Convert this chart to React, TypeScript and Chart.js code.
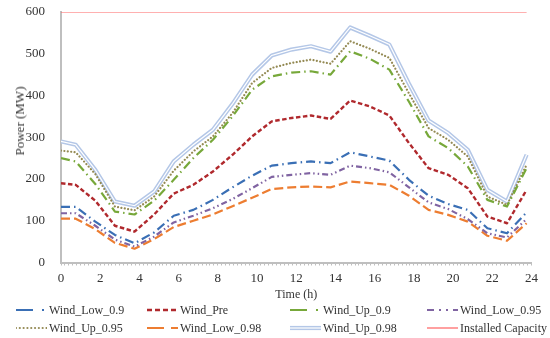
import React, { useEffect, useRef } from "react";
import { Chart, registerables } from "chart.js";
Chart.register(...registerables);

const hours = [0, 0.75, 1.75, 2.75, 3.75, 4.75, 5.75, 6.75, 7.75, 8.75, 9.75, 10.75, 11.75, 12.75, 13.75, 14.75, 15.75, 16.75, 17.75, 18.75, 19.75, 20.75, 21.75, 22.75, 23.75];

const windLow09 = [133, 133, 98, 66, 46, 72, 112, 126, 150, 180, 208, 232, 238, 242, 238, 264, 254, 244, 198, 160, 140, 126, 82, 70, 120];
const windPre = [190, 186, 148, 88, 74, 115, 165, 186, 218, 258, 302, 338, 346, 352, 344, 388, 374, 352, 286, 226, 210, 178, 110, 94, 174];
const windUp09 = [250, 242, 188, 122, 115, 148, 198, 250, 294, 350, 414, 446, 455, 458, 450, 506, 488, 462, 385, 302, 274, 230, 150, 134, 226];
const windLow095 = [118, 118, 88, 55, 38, 62, 96, 112, 130, 152, 178, 205, 210, 214, 210, 232, 226, 216, 180, 144, 128, 104, 70, 60, 104];
const windUp095 = [268, 264, 212, 134, 125, 158, 220, 266, 302, 358, 430, 466, 478, 486, 476, 530, 512, 490, 405, 322, 294, 254, 158, 138, 234];
const windLow098 = [105, 105, 80, 47, 33, 56, 85, 100, 115, 135, 155, 176, 180, 182, 180, 194, 190, 186, 160, 126, 114, 98, 64, 52, 94];
const windUp098 = [290, 282, 222, 146, 136, 170, 242, 282, 318, 380, 450, 496, 510, 518, 505, 563, 543, 522, 428, 340, 310, 270, 174, 146, 258];
const capacityHours = [0, 23.75];
const capacity = [600, 600];

const yTicks = [0, 100, 200, 300, 400, 500, 600];
const xLabelEvery = 2;
const xTitle = "Time (h)";
const yTitle = "Power (MW)";

const FONT = "'Liberation Serif', 'Times New Roman', serif";
const TEXT = "#333333";
const AXIS = "#bfbfbf";

type Style = {
  name: string;
  xs: number[];
  ys: number[];
  color: string;
  width: number;
  dash: number[];
  legendDash: number[];
  cap: "butt" | "round";
  double?: boolean;
};

const series: Style[] = [
  { name: "Wind_Low_0.9", xs: hours, ys: windLow09, color: "#3a6fb5", width: 2.2, dash: [9, 4, 1.5, 4], legendDash: [17, 9, 2, 9], cap: "butt" },
  { name: "Wind_Pre", xs: hours, ys: windPre, color: "#b0292d", width: 2.4, dash: [4.5, 2.5], legendDash: [5, 3], cap: "butt" },
  { name: "Wind_Up_0.9", xs: hours, ys: windUp09, color: "#77a83a", width: 2.2, dash: [9, 4, 1.5, 4], legendDash: [17, 9, 2, 9], cap: "butt" },
  { name: "Wind_Low_0.95", xs: hours, ys: windLow095, color: "#8064a2", width: 2.2, dash: [6, 3, 1.5, 3, 1.5, 3], legendDash: [7, 5, 2, 5, 2, 5], cap: "butt" },
  { name: "Wind_Up_0.95", xs: hours, ys: windUp095, color: "#948a54", width: 2.2, dash: [0.01, 3.4], legendDash: [0.01, 3.8], cap: "round" },
  { name: "Wind_Low_0.98", xs: hours, ys: windLow098, color: "#ed7d31", width: 2.2, dash: [9, 4], legendDash: [17, 7], cap: "butt" },
  { name: "Wind_Up_0.98", xs: hours, ys: windUp098, color: "#b4c7e7", width: 4.2, dash: [], legendDash: [], cap: "butt", double: true },
  { name: "Installed Capacity", xs: capacityHours, ys: capacity, color: "#ff6262", width: 1.2, dash: [], legendDash: [], cap: "butt" },
];

const legendCols = [16, 147, 290, 427];
const legendRows = [310, 327.5];

function LegendSample({ s }: { s: Style }) {
  return (
    <svg width={31} height={8} style={{ display: "block" }}>
      <line x1={0} y1={4} x2={31} y2={4} stroke={s.color} strokeWidth={s.width}
        strokeDasharray={s.legendDash.length ? s.legendDash.join(" ") : undefined} strokeLinecap={s.cap} />
      {s.double ? <line x1={0} y1={4} x2={31} y2={4} stroke="#ffffff" strokeWidth={1.2} /> : null}
    </svg>
  );
}

export default function App() {
  const ref = useRef<HTMLCanvasElement | null>(null);
  useEffect(() => {
    if (!ref.current) return;
    const datasets: any[] = [];
    series.forEach((s) => {
      const data = s.xs.map((x, i) => ({ x, y: s.ys[i] }));
      datasets.push({
        label: s.name,
        data,
        borderColor: s.color,
        borderWidth: s.width,
        borderDash: s.dash,
        borderCapStyle: s.cap,
        borderJoinStyle: "round",
        pointRadius: 0,
        tension: 0,
        fill: false,
        order: 1,
      });
      if (s.double) {
        datasets.push({
          label: s.name + "_inner",
          data,
          borderColor: "#ffffff",
          borderWidth: 1.2,
          pointRadius: 0,
          tension: 0,
          fill: false,
          order: 0,
        });
      }
    });
    const chart = new Chart(ref.current, {
      type: "line",
      data: { datasets },
      options: {
        animation: false,
        responsive: false,
        layout: { padding: { left: 0, right: 18.5, top: 12, bottom: 35.5 } },
        plugins: { legend: { display: false }, tooltip: { enabled: false } },
        scales: {
          x: {
            type: "linear",
            min: 0,
            max: 24,
            afterFit: (s: any) => { s.height = 40; s.paddingLeft = 0; s.paddingRight = 0; },
            ticks: {
              stepSize: 0.2,
              autoSkip: false,
              maxRotation: 0,
              padding: 5,
              color: TEXT,
              font: { family: FONT, size: 13 },
              callback: (v: any) => {
                const n = Number(v);
                return Math.abs(n / xLabelEvery - Math.round(n / xLabelEvery)) < 1e-6 ? String(Math.round(n)) : "";
              },
            },
            grid: { display: true, drawOnChartArea: false, drawTicks: true, tickLength: 3, color: AXIS, lineWidth: 1 },
            border: { display: true, color: AXIS, width: 2 },
            title: { display: true, text: xTitle, color: TEXT, font: { family: FONT, size: 12 }, padding: { top: 0, bottom: 0 } },
          },
          y: {
            min: 0,
            max: 600,
            afterFit: (s: any) => { s.width = 61; s.paddingTop = 0; s.paddingBottom = 0; },
            afterBuildTicks: (s: any) => { s.ticks = yTicks.map((v) => ({ value: v })); },
            ticks: { color: TEXT, font: { family: FONT, size: 13 }, padding: 16 },
            grid: { display: false, drawTicks: false },
            border: { display: true, color: AXIS, width: 2 },
            title: { display: false },
          },
        },
      },
    });
    return () => chart.destroy();
  }, []);

  return (
    <div style={{ position: "absolute", left: 0, top: 0, width: 550, height: 338, background: "#fff", fontFamily: FONT }}>
      <canvas ref={ref} width={550} height={338} style={{ display: "block" }} />
      <div style={{ position: "absolute", left: 20, top: 121, width: 0, height: 0 }}>
        <span style={{ position: "absolute", left: 0, top: 0, transform: "translate(-50%, -50%) rotate(-90deg)", whiteSpace: "nowrap", fontSize: 13, color: TEXT, lineHeight: "16px" }}>{yTitle}</span>
      </div>
      {series.map((s, i) => {
        const col = i % 4;
        const row = Math.floor(i / 4);
        return (
          <div key={s.name} style={{ position: "absolute", left: legendCols[col], top: legendRows[row] - 8, height: 16, display: "flex", alignItems: "center", whiteSpace: "nowrap" }}>
            <LegendSample s={s} />
            <span style={{ marginLeft: 2, fontSize: 12, color: TEXT, lineHeight: "16px" }}>{s.name}</span>
          </div>
        );
      })}
    </div>
  );
}
